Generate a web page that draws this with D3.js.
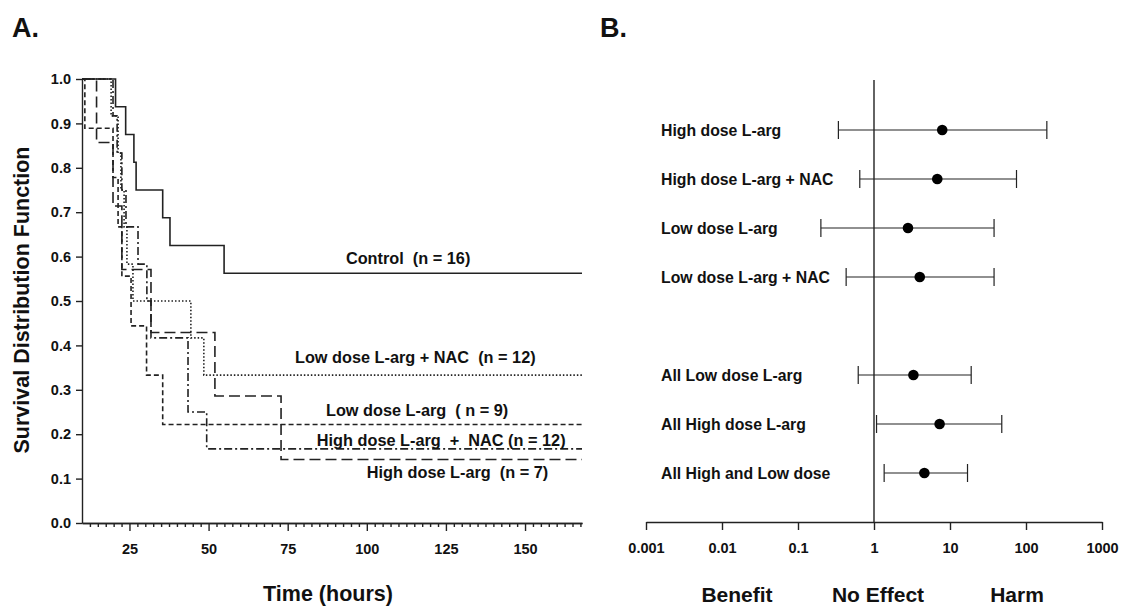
<!doctype html>
<html>
<head>
<meta charset="utf-8">
<title>Survival and odds ratio</title>
<style>
  body { margin:0; background:#fff; }
  svg { display:block; background:#fff; font-family:"Liberation Sans", Arial, Helvetica, sans-serif; }
  .lbl { font-weight:bold; font-size:16.3px; fill:#111; white-space:pre; }
  .fplbl { font-size:15.8px; }
  .title { font-weight:bold; font-size:27px; fill:#111; }
  .axtitle { font-weight:bold; font-size:21.5px; fill:#111; }
  .note { font-size:21px; }
  .axis text { font-weight:bold; font-size:14.5px; fill:#111; font-family:"Liberation Sans", Arial, sans-serif; }
  .axis path, .axis line { stroke:#222; stroke-width:1.4px; }
  .km { fill:none; stroke:#222; stroke-width:1.6px; }
</style>
<script src="https://cdn.jsdelivr.net/npm/d3@7"></script>
</head>
<body>
<svg id="chart" width="1136" height="609"></svg>
<script>

// ---- panel A : Kaplan-Meier curves (time in hours, survival fraction)
var kmNames = ["Control  (n = 16)", "Low dose L-arg + NAC  (n = 12)", "Low dose L-arg  ( n = 9)",
               "High dose L-arg  +  NAC (n = 12)", "High dose L-arg  (n = 7)"]
var controlTime = [10, 20.6, 23.8, 26.4, 27.1, 35.5, 37.8, 54.9, 168]
var controlSurv = [1, .9375, .875, .8125, .75, .6875, .625, .5625, .5625]
var lowNacTime  = [10, 19.2, 21.4, 22.3, 23.3, 24.2, 26.1, 44.4, 48.5, 168]
var lowNacSurv  = [1, .917, .833, .75, .667, .583, .5, .417, .333, .333]
var lowTime     = [10, 10.9, 19.8, 21.4, 22.6, 25.5, 30.4, 35.5, 168]
var lowSurv     = [1, .889, .778, .667, .556, .444, .333, .222, .222]
var highNacTime = [10, 19.8, 21.1, 22.6, 23.9, 27.7, 30.5, 31.8, 43.5, 49.4, 168]
var highNacSurv = [1, .917, .833, .75, .667, .583, .5, .417, .25, .167, .167]
var highTime    = [10, 14.6, 19.8, 22.6, 31.8, 52, 72.9, 168]
var highSurv    = [1, .857, .714, .571, .429, .286, .143, .143]
var timeTicks = [25, 50, 75, 100, 125, 150]
var survTicks = [0, .1, .2, .3, .4, .5, .6, .7, .8, .9, 1]

// ---- panel B : odds ratios with confidence limits
var fpLabels = ["High dose L-arg", "High dose L-arg + NAC", "Low dose L-arg", "Low dose L-arg + NAC",
                "All Low dose L-arg", "All High dose L-arg", "All High and Low dose"]
var fpRatio = [7.9, 6.8, 2.8, 4.0, 3.3, 7.3, 4.6]
var fpLow   = [0.34, 0.65, 0.20, 0.43, 0.62, 1.08, 1.36]
var fpHigh  = [188, 75, 38, 38, 19, 48, 17]
var fpTicks = [0.001, 0.01, 0.1, 1, 10, 100, 1000]
var fpTickText = ["0.001", "0.01", "0.1", "1", "10", "100", "1000"]

var svg = d3.select("#chart")

// ================= panel A
var x = d3.scaleLinear().domain([10, 168]).range([82, 582])
var y = d3.scaleLinear().domain([0, 1]).range([523, 79])

svg.append("text").attr("class", "title").attr("x", 12).attr("y", 37).text("A.")

svg.append("g").attr("class", "axis")
   .attr("transform", "translate(82,0)")
   .call(d3.axisLeft(y).tickValues(survTicks).tickFormat(d3.format(".1f"))
           .tickSize(6).tickSizeOuter(0).tickPadding(5))

// minor ticks every 2.5 h
var minor = d3.range(12.5, 168, 2.5).filter(function(d){ return d % 25 != 0 })
svg.append("g").attr("class", "axis")
   .attr("transform", "translate(0,523)")
   .call(d3.axisBottom(x).tickValues(minor).tickFormat("").tickSize(4).tickSizeOuter(0))
svg.append("g").attr("class", "axis")
   .attr("transform", "translate(0,523)")
   .call(d3.axisBottom(x).tickValues(timeTicks).tickFormat(d3.format("d"))
           .tickSize(8).tickSizeOuter(0).tickPadding(13))

svg.append("text").attr("class", "axtitle")
   .attr("transform", "translate(29,300) rotate(-90)")
   .attr("text-anchor", "middle").text("Survival Distribution Function")
svg.append("text").attr("class", "axtitle")
   .attr("x", 328).attr("y", 601).attr("text-anchor", "middle").text("Time (hours)")

var kmTimes = [controlTime, lowNacTime, lowTime, highNacTime, highTime]
var kmSurvs = [controlSurv, lowNacSurv, lowSurv, highNacSurv, highSurv]
var kmDash  = [null, "1.5,2", "5,3", "8,3,2,3", "11,5"]
var kmColor = ["#111", "#777", "#222", "#333", "#222"]
var kmWidth = [1.6, 1.3, 1.5, 1.5, 1.6]

var line = d3.line()
  .x(function(d){ return x(d[0]) })
  .y(function(d){ return y(d[1]) })
  .curve(d3.curveStepAfter)

kmTimes.forEach(function(t, k) {
  var pts = t.map(function(d, i){ return [d, kmSurvs[k][i]] })
  svg.append("path").datum(pts).attr("class", "km")
     .attr("d", line)
     .attr("stroke", kmColor[k])
     .attr("stroke-width", kmWidth[k])
     .attr("stroke-dasharray", kmDash[k])
})

// curve labels (placed in data units)
var labelAt = [[93.4, .583], [77.3, .361], [87.1, .241], [84.2, .174], [100, .101]]
svg.selectAll(".kmlbl").data(kmNames).enter()
   .append("text").attr("class", "lbl kmlbl")
   .attr("x", function(d,i){ return x(labelAt[i][0]) })
   .attr("y", function(d,i){ return y(labelAt[i][1]) })
   .text(function(d){ return d })

// ================= panel B
var fx = d3.scaleLog().domain([0.001, 1000]).range([646, 1102])
var rows = fpLabels.slice(0, 4).concat([""], fpLabels.slice(4))
var fy = d3.scalePoint().domain(rows).range([130, 473])

svg.append("text").attr("class", "title").attr("x", 600).attr("y", 37).text("B.")

svg.append("g").attr("class", "axis")
   .attr("transform", "translate(0,522)")
   .call(d3.axisBottom(fx).tickValues(fpTicks)
           .tickFormat(function(d,i){ return fpTickText[i] })
           .tickSize(8).tickSizeOuter(0).tickPadding(13))

svg.append("line")
   .attr("x1", fx(1)).attr("x2", fx(1)).attr("y1", 80).attr("y2", 522)
   .attr("stroke", "#222").attr("stroke-width", 1.4)

svg.selectAll(".fplbl").data(fpLabels).enter()
   .append("text").attr("class", "lbl fplbl")
   .attr("x", 661).attr("y", function(d){ return fy(d) + 5.5 })
   .text(function(d){ return d })

var bar = svg.selectAll(".ci").data(fpLabels).enter().append("g").attr("class", "ci")
bar.append("line")
   .attr("x1", function(d,i){ return fx(fpLow[i]) })
   .attr("x2", function(d,i){ return fx(fpHigh[i]) })
   .attr("y1", function(d){ return fy(d) }).attr("y2", function(d){ return fy(d) })
   .attr("stroke", "#222").attr("stroke-width", 1.2)
bar.append("line")
   .attr("x1", function(d,i){ return fx(fpLow[i]) }).attr("x2", function(d,i){ return fx(fpLow[i]) })
   .attr("y1", function(d){ return fy(d) - 9 }).attr("y2", function(d){ return fy(d) + 9 })
   .attr("stroke", "#222").attr("stroke-width", 1.2)
bar.append("line")
   .attr("x1", function(d,i){ return fx(fpHigh[i]) }).attr("x2", function(d,i){ return fx(fpHigh[i]) })
   .attr("y1", function(d){ return fy(d) - 9 }).attr("y2", function(d){ return fy(d) + 9 })
   .attr("stroke", "#222").attr("stroke-width", 1.2)
bar.append("circle")
   .attr("cx", function(d,i){ return fx(fpRatio[i]) })
   .attr("cy", function(d){ return fy(d) })
   .attr("r", 5.3).attr("fill", "#000")

var notes = [["Benefit", 737], ["No Effect", 878], ["Harm", 1017]]
svg.selectAll(".note").data(notes).enter()
   .append("text").attr("class", "axtitle note")
   .attr("x", function(d){ return d[1] }).attr("y", 602)
   .attr("text-anchor", "middle").text(function(d){ return d[0] })

</script>
</body>
</html>
